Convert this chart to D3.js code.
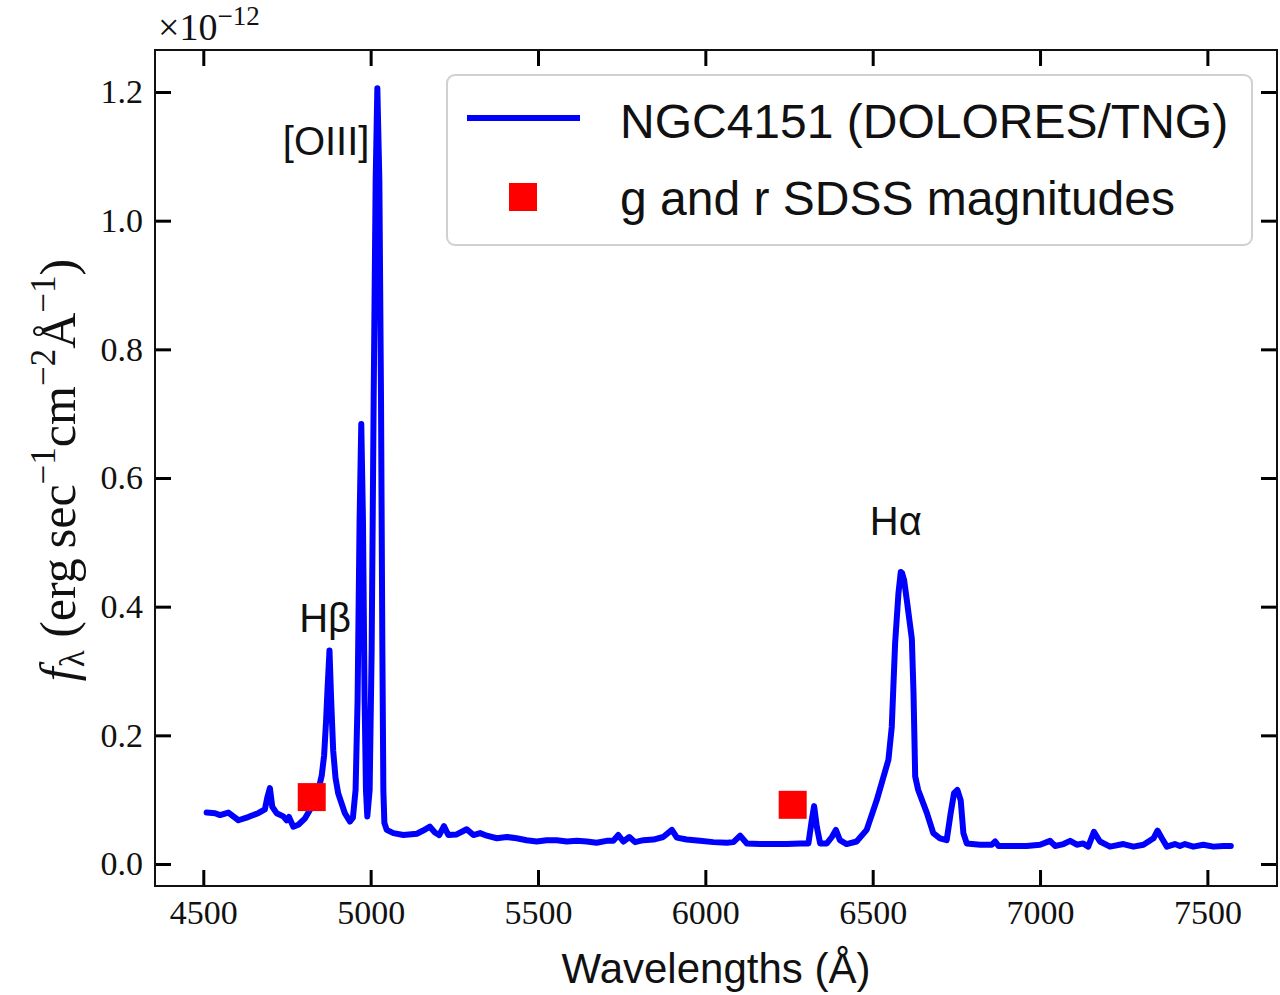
<!DOCTYPE html>
<html>
<head>
<meta charset="utf-8">
<script src="https://cdn.jsdelivr.net/npm/d3@7"></script>
<style>
  body { margin: 0; background: #ffffff; }
</style>
</head>
<body>
<svg id="chart" width="1280" height="995"></svg>
<script>
// Spectrum of NGC4151 (wavelength in Angstrom, flux in 1e-12 units).
const wavelengths = [
  4510, 4535, 4550, 4575, 4605, 4634, 4664, 4684, 4692, 4699, 4706, 4719, 4739, 4749, 4756,
  4769, 4784, 4804, 4824, 4844, 4854, 4861, 4867, 4871, 4877, 4882, 4888, 4895, 4903, 4923,
  4938, 4947, 4955, 4961, 4967, 4972, 4977, 4982, 4986, 4990, 4997, 5003, 5009, 5015, 5020,
  5026, 5031, 5035, 5038, 5041, 5048, 5068, 5098, 5138, 5157, 5177, 5192, 5205, 5219, 5232,
  5257, 5287, 5307, 5327, 5347, 5377, 5407, 5436, 5466, 5496, 5526, 5556, 5586, 5616, 5646,
  5675, 5705, 5725, 5740, 5755, 5773, 5790, 5815, 5845, 5874, 5900, 5915, 5944, 5984, 6024,
  6064, 6084, 6104, 6124, 6163, 6203, 6243, 6283, 6308, 6318, 6325, 6333, 6343, 6363, 6378,
  6390, 6402, 6422, 6452, 6482, 6512, 6547, 6557, 6567, 6577, 6584, 6588, 6594, 6602, 6610,
  6617, 6622, 6627, 6636, 6662, 6681, 6701, 6721, 6733, 6743, 6753, 6763, 6771, 6781, 6821,
  6856, 6866, 6876, 6920, 6960, 7000, 7030, 7045, 7070, 7090, 7110, 7129, 7144, 7161, 7179,
  7209, 7249, 7279, 7309, 7339, 7351, 7364, 7379, 7403, 7418, 7433, 7458, 7488, 7518, 7548,
  7570
];
const fluxes = [
  0.080, 0.079, 0.076, 0.080, 0.068, 0.073, 0.079, 0.085, 0.105, 0.118, 0.089, 0.079, 0.074, 0.068, 0.073,
  0.058, 0.061, 0.071, 0.089, 0.115, 0.138, 0.169, 0.224, 0.270, 0.332, 0.255, 0.177, 0.134, 0.110, 0.079,
  0.066, 0.072, 0.115, 0.255, 0.535, 0.684, 0.535, 0.255, 0.115, 0.074, 0.115, 0.333, 0.721, 1.063, 1.206,
  1.063, 0.721, 0.333, 0.115, 0.064, 0.053, 0.048, 0.045, 0.047, 0.052, 0.058, 0.049, 0.045, 0.059, 0.045,
  0.046, 0.054, 0.045, 0.048, 0.044, 0.040, 0.042, 0.040, 0.037, 0.035, 0.037, 0.037, 0.035, 0.036, 0.035,
  0.033, 0.036, 0.036, 0.045, 0.035, 0.042, 0.034, 0.037, 0.038, 0.042, 0.053, 0.041, 0.038, 0.036, 0.034,
  0.033, 0.034, 0.044, 0.032, 0.031, 0.031, 0.031, 0.032, 0.032, 0.068, 0.090, 0.058, 0.032, 0.032, 0.042,
  0.053, 0.037, 0.031, 0.035, 0.053, 0.099, 0.162, 0.213, 0.343, 0.421, 0.454, 0.452, 0.441, 0.410, 0.378,
  0.350, 0.265, 0.136, 0.115, 0.079, 0.048, 0.040, 0.037, 0.079, 0.110, 0.115, 0.099, 0.048, 0.032, 0.030,
  0.030, 0.035, 0.028, 0.028, 0.028, 0.030, 0.036, 0.028, 0.031, 0.036, 0.030, 0.032, 0.027, 0.050, 0.035,
  0.027, 0.031, 0.027, 0.030, 0.040, 0.052, 0.040, 0.027, 0.031, 0.028, 0.031, 0.027, 0.030, 0.027, 0.028,
  0.028
];
// g and r SDSS photometric points.
const sdssWavelengths = [4824, 6261];
const sdssFluxes = [0.104, 0.092];
// Tick values.
const xTicks = [4500, 5000, 5500, 6000, 6500, 7000, 7500];
const yTicks = [0.0, 0.2, 0.4, 0.6, 0.8, 1.0, 1.2];
// Emission line annotations.
const lineNames = ["[OIII]", "H\u03b2", "H\u03b1"];
const lineNameWl = [4867, 4864, 6569];
const lineNameFlux = [1.102, 0.361, 0.511];
const legendLabels = ["NGC4151 (DOLORES/TNG)", "g and r SDSS magnitudes"];

const serif = "'Liberation Serif', 'DejaVu Serif', serif";
const sans = "'Liberation Sans', Arial, sans-serif";

const svg = d3.select("#chart");
const plot = { left: 155, right: 1277, top: 50, bottom: 886 };

// Scales: the axes extend a bit beyond the data, as in matplotlib.
const x = d3.scaleLinear()
  .domain([4355.7, 7708])
  .range([plot.left, plot.right]);
const y = d3.scaleLinear()
  .domain([-0.0342, 1.2653])
  .range([plot.bottom, plot.top]);

// Spectrum line.
const points = wavelengths.map((w, i) => ({ w, f: fluxes[i] }));
const line = d3.line()
  .x(d => x(d.w))
  .y(d => y(d.f));
svg.append("path")
  .datum(points)
  .attr("fill", "none")
  .attr("stroke", "#0000ff")
  .attr("stroke-width", 6)
  .attr("stroke-linejoin", "round")
  .attr("stroke-linecap", "round")
  .attr("d", line);

// SDSS squares.
const sq = 28;
svg.selectAll(".sdss")
  .data(sdssWavelengths.map((w, i) => ({ w, f: sdssFluxes[i] })))
  .enter()
  .append("rect")
  .attr("class", "sdss")
  .attr("x", d => x(d.w) - sq / 2)
  .attr("y", d => y(d.f) - sq / 2)
  .attr("width", sq)
  .attr("height", sq)
  .attr("fill", "#ff0000");

// Axes with inward ticks on all four sides.
function styleAxis(g) {
  g.select(".domain").remove();
  g.selectAll(".tick line")
    .attr("stroke", "#000000")
    .attr("stroke-width", 3);
  g.selectAll(".tick text")
    .attr("font-family", serif)
    .attr("font-size", 34)
    .attr("fill", "#111111");
}
svg.append("g")
  .attr("transform", `translate(0,${plot.bottom})`)
  .call(d3.axisBottom(x).tickValues(xTicks).tickSizeInner(-16).tickSizeOuter(0)
    .tickPadding(14).tickFormat(d3.format("d")))
  .call(styleAxis);
svg.append("g")
  .attr("transform", `translate(0,${plot.top})`)
  .call(d3.axisTop(x).tickValues(xTicks).tickSizeInner(-16).tickSizeOuter(0).tickFormat(""))
  .call(styleAxis);
svg.append("g")
  .attr("transform", `translate(${plot.left},0)`)
  .call(d3.axisLeft(y).tickValues(yTicks).tickSizeInner(-16).tickSizeOuter(0)
    .tickPadding(12).tickFormat(d3.format(".1f")))
  .call(styleAxis);
svg.append("g")
  .attr("transform", `translate(${plot.right},0)`)
  .call(d3.axisRight(y).tickValues(yTicks).tickSizeInner(-16).tickSizeOuter(0).tickFormat(""))
  .call(styleAxis);

// Frame.
svg.append("rect")
  .attr("x", plot.left)
  .attr("y", plot.top)
  .attr("width", plot.right - plot.left)
  .attr("height", plot.bottom - plot.top)
  .attr("fill", "none")
  .attr("stroke", "#111111")
  .attr("stroke-width", 2);

// Offset text above the y axis.
const offset = svg.append("text")
  .attr("x", 158)
  .attr("y", 40)
  .attr("font-family", serif)
  .attr("font-size", 38)
  .attr("fill", "#111111");
offset.append("tspan").text("\u00d710");
offset.append("tspan").attr("font-size", 27).attr("dy", -15).text("\u221212");

// Axis titles.
svg.append("text")
  .attr("x", (plot.left + plot.right) / 2)
  .attr("y", 983)
  .attr("text-anchor", "middle")
  .attr("font-family", sans)
  .attr("font-size", 42)
  .attr("fill", "#111111")
  .text("Wavelengths (\u00c5)");

const ylab = svg.append("text")
  .attr("transform", "translate(75,470) rotate(-90)")
  .attr("text-anchor", "middle")
  .attr("font-family", serif)
  .attr("font-size", 50)
  .attr("fill", "#111111");
ylab.append("tspan").attr("font-style", "italic").text("f");
ylab.append("tspan").attr("font-size", 35).attr("dy", 9).text("\u03bb");
ylab.append("tspan").attr("dy", -9).text(" (erg\u2009sec");
ylab.append("tspan").attr("font-size", 35).attr("dy", -20).text("\u22121");
ylab.append("tspan").attr("dy", 20).text("cm");
ylab.append("tspan").attr("font-size", 35).attr("dy", -20).text("\u22122");
ylab.append("tspan").attr("dy", 20).text("\u00c5");
ylab.append("tspan").attr("font-size", 35).attr("dy", -20).text("\u22121");
ylab.append("tspan").attr("dy", 20).text(")");

// Emission line labels.
svg.selectAll(".line-name")
  .data(lineNames)
  .enter()
  .append("text")
  .attr("class", "line-name")
  .attr("x", (d, i) => x(lineNameWl[i]))
  .attr("y", (d, i) => y(lineNameFlux[i]))
  .attr("text-anchor", "middle")
  .attr("font-family", sans)
  .attr("font-size", 40)
  .attr("fill", "#111111")
  .text(d => d);

// Legend.
const legend = svg.append("g").attr("transform", "translate(447,75)");
legend.append("rect")
  .attr("width", 805)
  .attr("height", 170)
  .attr("rx", 8)
  .attr("fill", "#ffffff")
  .attr("stroke", "#d0d0d0")
  .attr("stroke-width", 2);
legend.append("line")
  .attr("x1", 20)
  .attr("x2", 133)
  .attr("y1", 43)
  .attr("y2", 43)
  .attr("stroke", "#0000ff")
  .attr("stroke-width", 6);
legend.append("rect")
  .attr("x", 76 - sq / 2)
  .attr("y", 122 - sq / 2)
  .attr("width", sq)
  .attr("height", sq)
  .attr("fill", "#ff0000");
legend.selectAll(".legend-label")
  .data(legendLabels)
  .enter()
  .append("text")
  .attr("class", "legend-label")
  .attr("x", 173)
  .attr("y", (d, i) => 63 + i * 77)
  .attr("font-family", sans)
  .attr("font-size", 48)
  .attr("fill", "#111111")
  .text(d => d);
</script>
</body>
</html>
